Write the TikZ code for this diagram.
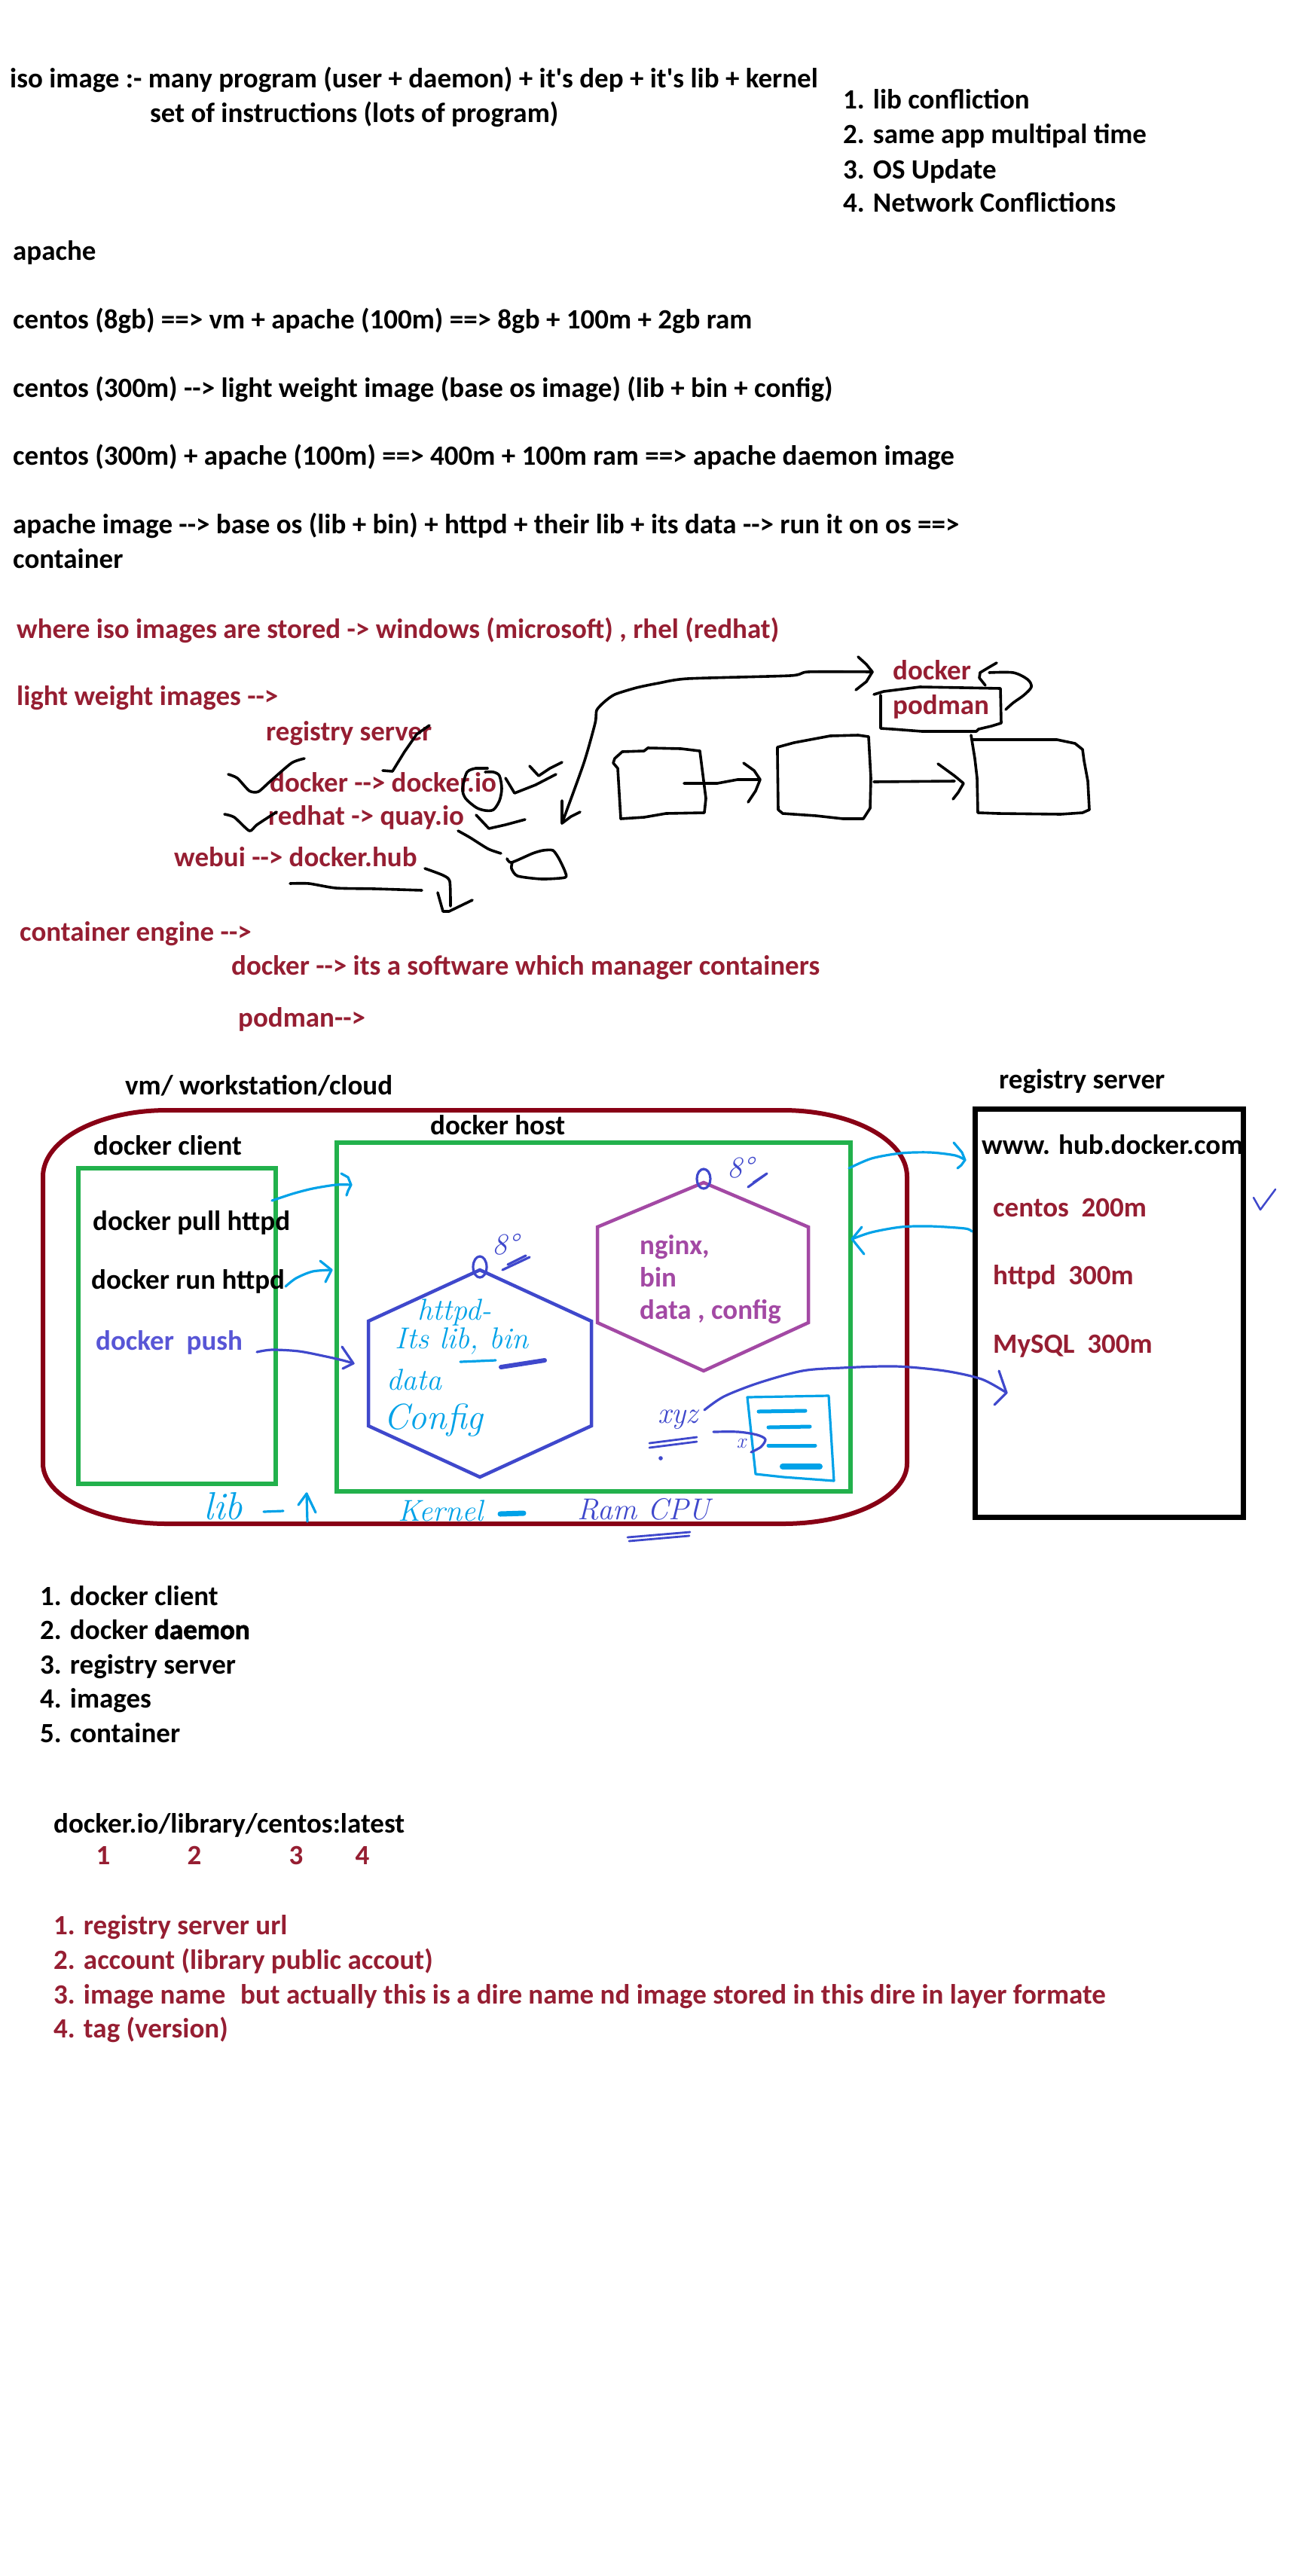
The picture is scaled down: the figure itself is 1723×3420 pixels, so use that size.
\documentclass[tikz,border=0pt]{standalone}
\usepackage{fontspec}
\newfontfamily\cb{Carlito}[Ligatures=TeXOff]
\newfontfamily\heavy{Carlito}[Ligatures=TeXOff,BoldFeatures={FakeBold=2}]
\definecolor{rd}{RGB}{150,30,50}
\definecolor{mr}{RGB}{136,0,21}
\definecolor{gr}{RGB}{34,177,76}
\definecolor{ind}{RGB}{63,72,204}
\definecolor{pur}{RGB}{163,73,164}
\definecolor{cy}{RGB}{0,162,232}
\definecolor{pb}{RGB}{88,86,214}
\begin{document}
\begin{tikzpicture}[x=1pt,y=-1pt,
  txt/.style={anchor=base west, inner sep=0pt, font=\cb\bfseries\fontsize{37}{44}\selectfont},
  rtxt/.style={txt, text=rd},
  hand/.style={inner sep=0pt, font=\itshape\fontsize{40}{48}\selectfont},
  sk/.style={draw=black, line width=3.6pt, line cap=round, line join=round},
  hw/.style={line width=3.2pt, line cap=round, line join=round},
  box/.style={draw, inner sep=0pt, anchor=north west}]
\useasboundingbox[fill=white] (0,0) rectangle (1723,3420);

% ---------- top texts ----------
\node[txt] (t1) at (13,117) {iso image :- many program (user + daemon) + it's dep + it's lib + kernel};
\node[txt] (t2) at (199,163) {set of instructions (lots of program)};
\node[txt] (l1) at (1119,145) {1. lib confliction};
\node[txt] (l2) at (1119,191) {2. same app multipal time};
\node[txt] (l3) at (1119,237) {3. OS Update};
\node[txt] (l4) at (1119,281) {4. Network Conflictions};
\node[txt] (a1) at (17,345) {apache};
\node[txt] (a2) at (17,436) {centos (8gb) ==> vm + apache (100m) ==> 8gb + 100m + 2gb ram};
\node[txt] (a3) at (17,527) {centos (300m) --> light weight image (base os image) (lib + bin + config)};
\node[txt] (a4) at (17,617) {centos (300m) + apache (100m) ==> 400m + 100m ram ==> apache daemon image};
\node[txt] (a5) at (17,708) {apache image --> base os (lib + bin) + httpd + their lib + its data --> run it on os ==>};
\node[txt] (a6) at (17,754) {container};

% ---------- red texts ----------
\node[rtxt] (r1) at (22,847) {where iso images are stored -> windows (microsoft) , rhel (redhat)};
\node[rtxt] (r2) at (22,936) {light weight images -->};
\node[rtxt] (r3) at (353,983) {registry server};
\node[rtxt] (r4) at (358,1051) {docker --> docker.io};
\node[rtxt] (r5) at (356,1095) {redhat -> quay.io};
\node[rtxt] (r6) at (231,1150) {webui --> docker.hub};
\node[rtxt] (r7) at (26,1249) {container engine -->};
\node[rtxt] (r8) at (307,1294) {docker --> its a software which manager containers};
\node[rtxt] (r9) at (316,1363) {podman-->};
\node[rtxt] (r10) at (1185,902) {docker};
\node[rtxt] (r11) at (1185,948) {podman};

% ---------- sketch ----------
\draw[sk] plot[smooth, tension=0.4] coordinates {(1158,892) (1073,892) (1049,897) (913,901) (874,907) (845,913) (816,922) (802,932) (792,943) (790,960) (775,1013) (746,1093)};
\draw[sk] (1139,872) -- (1150,882) -- (1158,892) -- (1150,905) -- (1136,916);
\draw[sk] (746,1063) -- (746,1093) -- (758,1084) -- (770,1078);
\draw[sk] (816,1007) -- (826,998) -- (855,997) -- (860,993) -- (904,994) -- (929,997) -- (937,1060) -- (935,1079) -- (884,1080) -- (855,1085) -- (824,1087) -- (820,1020) -- (814,1013) -- cycle;
\draw[sk] (908,1040) -- (952,1040) -- (979,1035) -- (1008,1035);
\draw[sk] (987,1013) -- (1001,1023) -- (1009,1035) -- (1003,1050) -- (993,1065);
\draw[sk] (1032,992) -- (1054,986) -- (1102,977) -- (1139,976) -- (1153,978) -- (1156,1033) -- (1155,1073) -- (1146,1087) -- (1119,1087) -- (1083,1083) -- (1039,1080) -- (1033,1075) -- (1032,1000) -- cycle;
\draw[sk] (1160,1038) -- (1267,1037);
\draw[sk] (1245,1014) -- (1267,1030) -- (1279,1040) -- (1272,1052) -- (1265,1061);
\draw[sk] (1289,976) -- (1290,982) -- (1403,982) -- (1427,987) -- (1437,995) -- (1439,1010) -- (1444,1037) -- (1446,1075) -- (1437,1079) -- (1408,1081) -- (1325,1080) -- (1298,1079) -- (1297,1033) -- (1294,1007) -- (1289,976);
\draw[sk] (1160,922) -- (1173,918) -- (1221,912) -- (1277,913) -- (1328,914) -- (1329,960) -- (1316,964) -- (1299,968) -- (1296,971) -- (1224,971) -- (1185,968) -- (1169,967) -- (1169,923);
\draw[sk] plot[smooth, tension=0.5] coordinates {(1313,893) (1345,893) (1364,902) (1369,912) (1359,923) (1345,933) (1335,942)};
\draw[sk] (1323,880) -- (1311,887) -- (1301,893) -- (1300,900) -- (1308,910);
% marks near registry list
\draw[sk] plot[smooth, tension=0.4] coordinates {(303,1028) (315,1033) (331,1050) (343,1051) (359,1037) (387,1013) (404,1007)};
\draw[sk] (508,1023) -- (521,1024) -- (537,998) -- (553,975) -- (570,963);
\draw[sk] plot[smooth, tension=0.5] coordinates {(632,1020) (620,1025) (614,1047) (618,1060) (632,1072) (644,1076) (655,1075) (663,1063) (666,1047) (663,1030) (655,1025) (644,1025)};
\draw[sk] (632,1020) -- (647,1020);
\draw[sk] (671,1033) -- (683,1053) -- (711,1042) -- (738,1028);
\draw[sk] (703,1017) -- (715,1030) -- (730,1020) -- (746,1012);
\draw[sk] plot[smooth, tension=0.4] coordinates {(298,1081) (311,1085) (331,1103) (341,1095) (367,1078)};
\draw[sk] (632,1082) -- (649,1100) -- (671,1095) -- (697,1088);
\draw[sk] plot[smooth, tension=0.4] coordinates {(608,1103) (624,1112) (648,1127) (665,1133)};
\draw[sk] plot[smooth, tension=0.4] coordinates {(673,1140) (679,1145) (707,1133) (721,1129) (734,1129) (742,1140) (750,1157) (750,1165) (719,1167) (687,1163) (679,1153) (680,1145)};
\draw[sk] plot[smooth, tension=0.4] coordinates {(385,1173) (410,1173) (446,1179) (497,1180) (560,1182)};
\draw[sk] plot[smooth, tension=0.4] coordinates {(564,1153) (588,1162) (597,1170) (598,1203)};
\draw[sk] (581,1185) -- (588,1210) -- (596,1210) -- (627,1195);

% ---------- lower diagram ----------
\node[txt] (vm) at (166,1453) {vm/ workstation/cloud};
\node[txt] (rslab) at (1326,1445) {registry server};
\draw[mr, line width=6pt] (57,1562) .. controls (57,1513) and (131,1474) .. (222,1474) -- (1039,1474) .. controls (1130,1474) and (1204,1513) .. (1204,1562) -- (1204,1943) .. controls (1204,1987) and (1130,2023) .. (1039,2023) -- (222,2023) .. controls (131,2023) and (57,1987) .. (57,1943) -- cycle;
\node[box, draw=gr, line width=6pt, minimum width=262pt, minimum height=419pt] (client) at (101,1548) {};
\node[box, draw=gr, line width=6pt, minimum width=682pt, minimum height=463pt] (host) at (444,1514) {};
\node[box, draw=black, line width=7pt, minimum width=356pt, minimum height=542pt] (reg) at (1291,1469) {};
\node[txt] (hostlab) at (571,1506) {docker host};
\node[txt] (clientlab) at (124,1533) {docker client};
\node[txt] (pull) at (123,1633) {docker pull httpd};
\node[txt] (run) at (121,1711) {docker run httpd};
\node[txt, text=pb] (push) at (127,1792) {docker\ \ push};
\node[txt] (www) at (1303,1532) {www. hub.docker.com};
\node[rtxt] (cen) at (1318,1615) {centos\ \ 200m};
\node[rtxt] (htt) at (1318,1705) {httpd\ \ 300m};
\node[rtxt] (mys) at (1318,1796) {MySQL\ \ 300m};

% hexagons
\draw[ind, line width=4.5pt, line join=miter] (637,1686) -- (785,1754) -- (785,1893) -- (637,1961) -- (489,1893) -- (489,1754) -- cycle;
\draw[pur, line width=4.5pt, line join=miter] (934,1570) -- (1073,1629) -- (1073,1756) -- (934,1820) -- (793,1756) -- (793,1629) -- cycle;
\draw[ind, hw] (637,1682) ellipse [x radius=9, y radius=14];
\draw[ind, hw] (934,1565) ellipse [x radius=9, y radius=13];
\node[hand, text=ind] (deg1) at (671,1652) {8°};
\node[hand, text=ind] (deg2) at (983,1550) {8°};
\draw[ind, hw] (667,1686) -- (703,1669);
\draw[ind, hw] (674,1679) -- (698,1667);
\draw[ind, hw] (993,1576) -- (1018,1558) -- (1000,1570);
\node[txt, text=pur] (ng1) at (849,1665) {nginx,};
\node[txt, text=pur] (ng2) at (849,1708) {bin};
\node[txt, text=pur] (ng3) at (849,1751) {data , config};
\node[hand, text=cy] (h1) at (603,1742) {httpd-};
\node[hand, text=cy] (h2) at (613,1780) {Its lib, bin};
\node[hand, text=cy] (h3) at (550,1832) {data};
\node[hand, text=cy, font=\itshape\fontsize{48}{56}\selectfont] (h4) at (575,1885) {Config};
\draw[cy, hw] (611,1808) -- (658,1806);
\draw[ind, line width=6pt, line cap=round] (665,1815) -- (723,1806);

% client -> host arrows
\coordinate (p1s) at (361,1594); \coordinate (p1e) at (466,1573);
\draw[cy, hw] plot[smooth, tension=0.5] coordinates {(p1s) (388,1585) (415,1578) (446,1573) (p1e)};
\draw[cy, hw] (453,1558) -- (462,1563) -- (p1e) -- (462,1581) -- (460,1587);
\coordinate (p2s) at (379,1708); \coordinate (p2e) at (440,1686);
\draw[cy, hw] plot[smooth, tension=0.5] coordinates {(p2s) (393,1697) (415,1688) (p2e)};
\draw[cy, hw] (425,1674) -- (p2e) -- (432,1702);
\coordinate (p3s) at (341,1795); \coordinate (p3e) at (469,1810);
\draw[ind, hw] plot[smooth, tension=0.5] coordinates {(p3s) (361,1792) (397,1794) (433,1801) (455,1806) (p3e)};
\draw[ind, hw] (454,1788) -- (p3e) -- (455,1817);
% host <-> registry arrows
\coordinate (p4s) at (1127,1551); \coordinate (p4e) at (1281,1540);
\draw[cy, hw] plot[smooth, tension=0.5] coordinates {(p4s) (1157,1538) (1196,1531) (1235,1530) (1268,1534) (p4e)};
\draw[cy, hw] (1266,1517) -- (1277,1530) -- (p4e) -- (1276,1547) -- (1271,1551);
\coordinate (p5s) at (1290,1635); \coordinate (p5e) at (1131,1645);
\draw[cy, hw] plot[smooth, tension=0.5] coordinates {(p5s) (1281,1631) (1235,1628) (1196,1629) (1157,1636) (p5e)};
\draw[cy, hw] (1144,1629) -- (p5e) -- (1147,1665);
\coordinate (p6s) at (935,1872); \coordinate (p6e) at (1336,1849);
\draw[ind, hw] plot[smooth, tension=0.5] coordinates {(p6s) (961,1854) (1007,1836) (1065,1820) (1117,1816) (1189,1814) (1254,1820) (1303,1831) (p6e)};
\draw[ind, hw] (1326,1820) -- (p6e) -- (1320,1865);

% xyz and document
\node[hand, text=ind] (xyz) at (900,1885) {xyz};
\draw[ind, hw, line width=2.8pt] (862,1916) -- (925,1908);
\draw[ind, hw, line width=2.8pt] (862,1922) -- (925,1914);
\fill[ind] (877,1936) circle (2.8);
\draw[cy, hw] (992,1855) -- (1100,1853) -- (1107,1966) -- (1040,1961) -- (1003,1957) -- cycle;
\draw[cy, line width=5pt, line cap=round] (1007,1874) -- (1069,1873);
\draw[cy, line width=5pt, line cap=round] (1020,1895) -- (1075,1894);
\draw[cy, line width=5pt, line cap=round] (1020,1919) -- (1082,1919);
\draw[cy, line width=8pt, line cap=round] (1039,1947) -- (1088,1947);
\draw[ind, hw] plot[smooth, tension=0.5] coordinates {(947,1901) (980,1901) (1005,1905) (1016,1911) (1010,1921) (997,1928)};
\node[hand, text=ind, font=\itshape\fontsize{28}{32}\selectfont] (xx) at (984,1916) {x};
\draw[ind, hw, line width=2.5pt] (1664,1590) -- (1673,1606) -- (1693,1579);

% bottom handwriting
\node[hand, text=cy, font=\itshape\fontsize{52}{60}\selectfont] (libt) at (296,2000) {lib};
\draw[cy, hw] (350,2007) -- (376,2006);
\draw[cy, hw] (408,2020) -- (407,1983);
\draw[cy, hw] (396,1998) -- (407,1983) -- (419,2008);
\node[hand, text=cy] (kern) at (585,2006) {Kernel};
\draw[cy, line width=7pt, line cap=round] (664,2010) -- (695,2009);
\node[hand, text=ind] (ram) at (855,2004) {Ram CPU};
\draw[ind, hw, line width=2.8pt] (833,2041) -- (916,2034);
\draw[ind, hw, line width=2.8pt] (835,2046) -- (915,2039);

% ---------- bottom lists ----------
\node[txt] (c1) at (53,2131) {1. docker client};
\node[txt] (c2) at (53,2176) {2. docker {\heavy\bfseries daemon}};
\node[txt] (c3) at (53,2222) {3. registry server};
\node[txt] (c4) at (53,2267) {4. images};
\node[txt] (c5) at (53,2313) {5. container};
\node[txt] (url) at (71,2433) {docker.io/library/centos:latest};
\node[rtxt, anchor=base] (n1) at (137,2475) {1};
\node[rtxt, anchor=base] (n2) at (258,2475) {2};
\node[rtxt, anchor=base] (n3) at (393,2475) {3};
\node[rtxt, anchor=base] (n4) at (481,2475) {4};
\node[rtxt] (e1) at (71,2568) {1. registry server url};
\node[rtxt] (e2) at (71,2614) {2. account (library public accout)};
\node[rtxt] (e3) at (71,2660) {3. image name};
\node[rtxt] (e3b) at (319,2660) {but actually this is a dire name nd image stored in this dire in layer formate};
\node[rtxt] (e4) at (71,2705) {4. tag (version)};
\end{tikzpicture}
\end{document}
